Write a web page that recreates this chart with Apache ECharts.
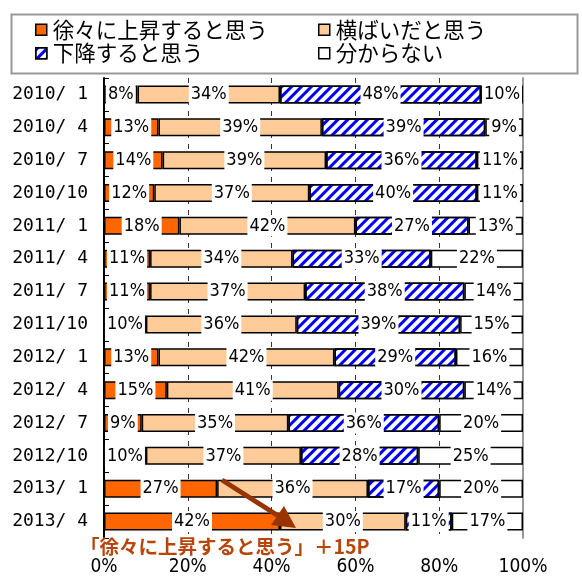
<!DOCTYPE html>
<html>
<head>
<meta charset="utf-8">
<script src="https://cdn.jsdelivr.net/npm/echarts@6/dist/echarts.min.js"></script>
<style>
html,body{margin:0;padding:0;background:#fff;}
#main{width:582px;height:577px;}
</style>
</head>
<body>
<div id="main"></div>
<script>
// 調査時期
var categories = ['2010/ 1','2010/ 4','2010/ 7','2010/10','2011/ 1','2011/ 4','2011/ 7',
                  '2011/10','2012/ 1','2012/ 4','2012/ 7','2012/10','2013/ 1','2013/ 4'];
// 各回答の割合(%)
var risePct    = [8, 13, 14, 12, 18, 11, 11, 10, 13, 15, 9, 10, 27, 42];
var flatPct    = [34, 39, 39, 37, 42, 34, 37, 36, 42, 41, 35, 37, 36, 30];
var fallPct    = [48, 39, 36, 40, 27, 33, 38, 39, 29, 30, 36, 28, 17, 11];
var unknownPct = [10, 9, 11, 11, 13, 22, 14, 15, 16, 14, 20, 25, 20, 17];
var xTicks = [0, 20, 40, 60, 80, 100];
var seriesNames = ['徐々に上昇すると思う', '横ばいだと思う', '下降すると思う', '分からない'];
var noteText = '「徐々に上昇すると思う」＋15P';

var chart = echarts.init(document.getElementById('main'));

var narrowFont = '"DejaVu Sans Condensed", sans-serif';
var cjkFont = '"Noto Sans CJK JP", sans-serif';

//棒の共通設定
function makeSeries(name, data, fill, decal){
	var s = {
		name: name,
		type: 'bar',
		stack: 'total',
		barWidth: 18,
		data: data,
		itemStyle: {color: fill, borderColor: '#000', borderWidth: 1.5},
		label: {
			show: true,
			position: 'inside',
			formatter: '{c}%',
			color: '#000',
			fontFamily: narrowFont,
			fontSize: 18,
			lineHeight: 19,
			backgroundColor: '#fff',
			padding: [1, 2]
		}
	};
	if(decal){
		s.itemStyle.decal = decal;
	}
	return s;
}

var stripe = {
	symbol: 'rect',
	color: '#0000ff',
	dashArrayX: [1, 0],
	dashArrayY: [3, 4],
	rotation: -Math.PI / 4
};

var legendCommon = {
	orient: 'vertical',
	top: 14,
	itemGap: 2,
	itemWidth: 11,
	itemHeight: 11,
	icon: 'rect',
	itemStyle: {borderColor: '#000', borderWidth: 1.5},
	textStyle: {fontFamily: cjkFont, fontSize: 21.5, color: '#000', padding: [0, 0, 0, 1]},
	selectedMode: false
};

var option = {
	animation: false,
	backgroundColor: '#fff',
	legend: [
		$extend({left: 30, data: [seriesNames[0], seriesNames[2]]}),
		$extend({left: 313, data: [seriesNames[1], seriesNames[3]]})
	],
	grid: {left: 104, right: 59, top: 78, bottom: 39, outerBoundsMode: 'none'},
	xAxis: {
		type: 'value',
		min: xTicks[0],
		max: xTicks[xTicks.length - 1],
		interval: 20,
		axisLine: {show: false},
		axisTick: {show: false},
		axisLabel: {formatter: '{value}%', color: '#000', fontFamily: narrowFont, fontSize: 19, margin: 20},
		splitLine: {show: true, lineStyle: {color: '#333', width: 1, type: [5, 6]}}
	},
	yAxis: [{
		type: 'category',
		data: categories,
		inverse: true,
		axisLine: {show: true, lineStyle: {color: '#000', width: 2}},
		axisTick: {show: true, inside: true, length: 5, lineStyle: {color: '#000', width: 1}},
		axisLabel: {color: '#000', fontFamily: '"DejaVu Sans Mono", monospace', fontSize: 18, margin: 16},
		splitLine: {show: false}
	}, {
		//右側の枠線
		type: 'category',
		data: categories,
		inverse: true,
		position: 'right',
		axisLine: {show: true, lineStyle: {color: '#999', width: 2}},
		axisTick: {show: false},
		axisLabel: {show: false},
		splitLine: {show: false}
	}],
	series: [
		makeSeries(seriesNames[0], risePct, '#ff6600'),
		makeSeries(seriesNames[1], flatPct, '#ffcc99'),
		makeSeries(seriesNames[2], fallPct, '#ffffff', stripe),
		makeSeries(seriesNames[3], unknownPct, '#ffffff')
	],
	graphic: [
		//凡例の枠
		{type: 'rect', left: 9, top: 12, z: -1, shape: {width: 566, height: 59},
		 style: {fill: 'none', stroke: '#999', lineWidth: 2}},
		//矢印
		{type: 'line', z: 100, shape: {x1: 222, y1: 480, x2: 280, y2: 517},
		 style: {stroke: '#993300', lineWidth: 5}},
		{type: 'polygon', z: 100, shape: {points: [[296, 528], [271, 525], [284, 506]]},
		 style: {fill: '#993300'}},
		//注記
		{type: 'text', left: 80, top: 537, z: 100,
		 style: {text: noteText, fill: '#b8460b', fontFamily: cjkFont, fontSize: 19.5, fontWeight: 'bold'}}
	]
};

function $extend(o){
	var r = {};
	for(var k in legendCommon){ r[k] = legendCommon[k]; }
	for(var k2 in o){ r[k2] = o[k2]; }
	return r;
}

chart.setOption(option);
</script>
</body>
</html>
